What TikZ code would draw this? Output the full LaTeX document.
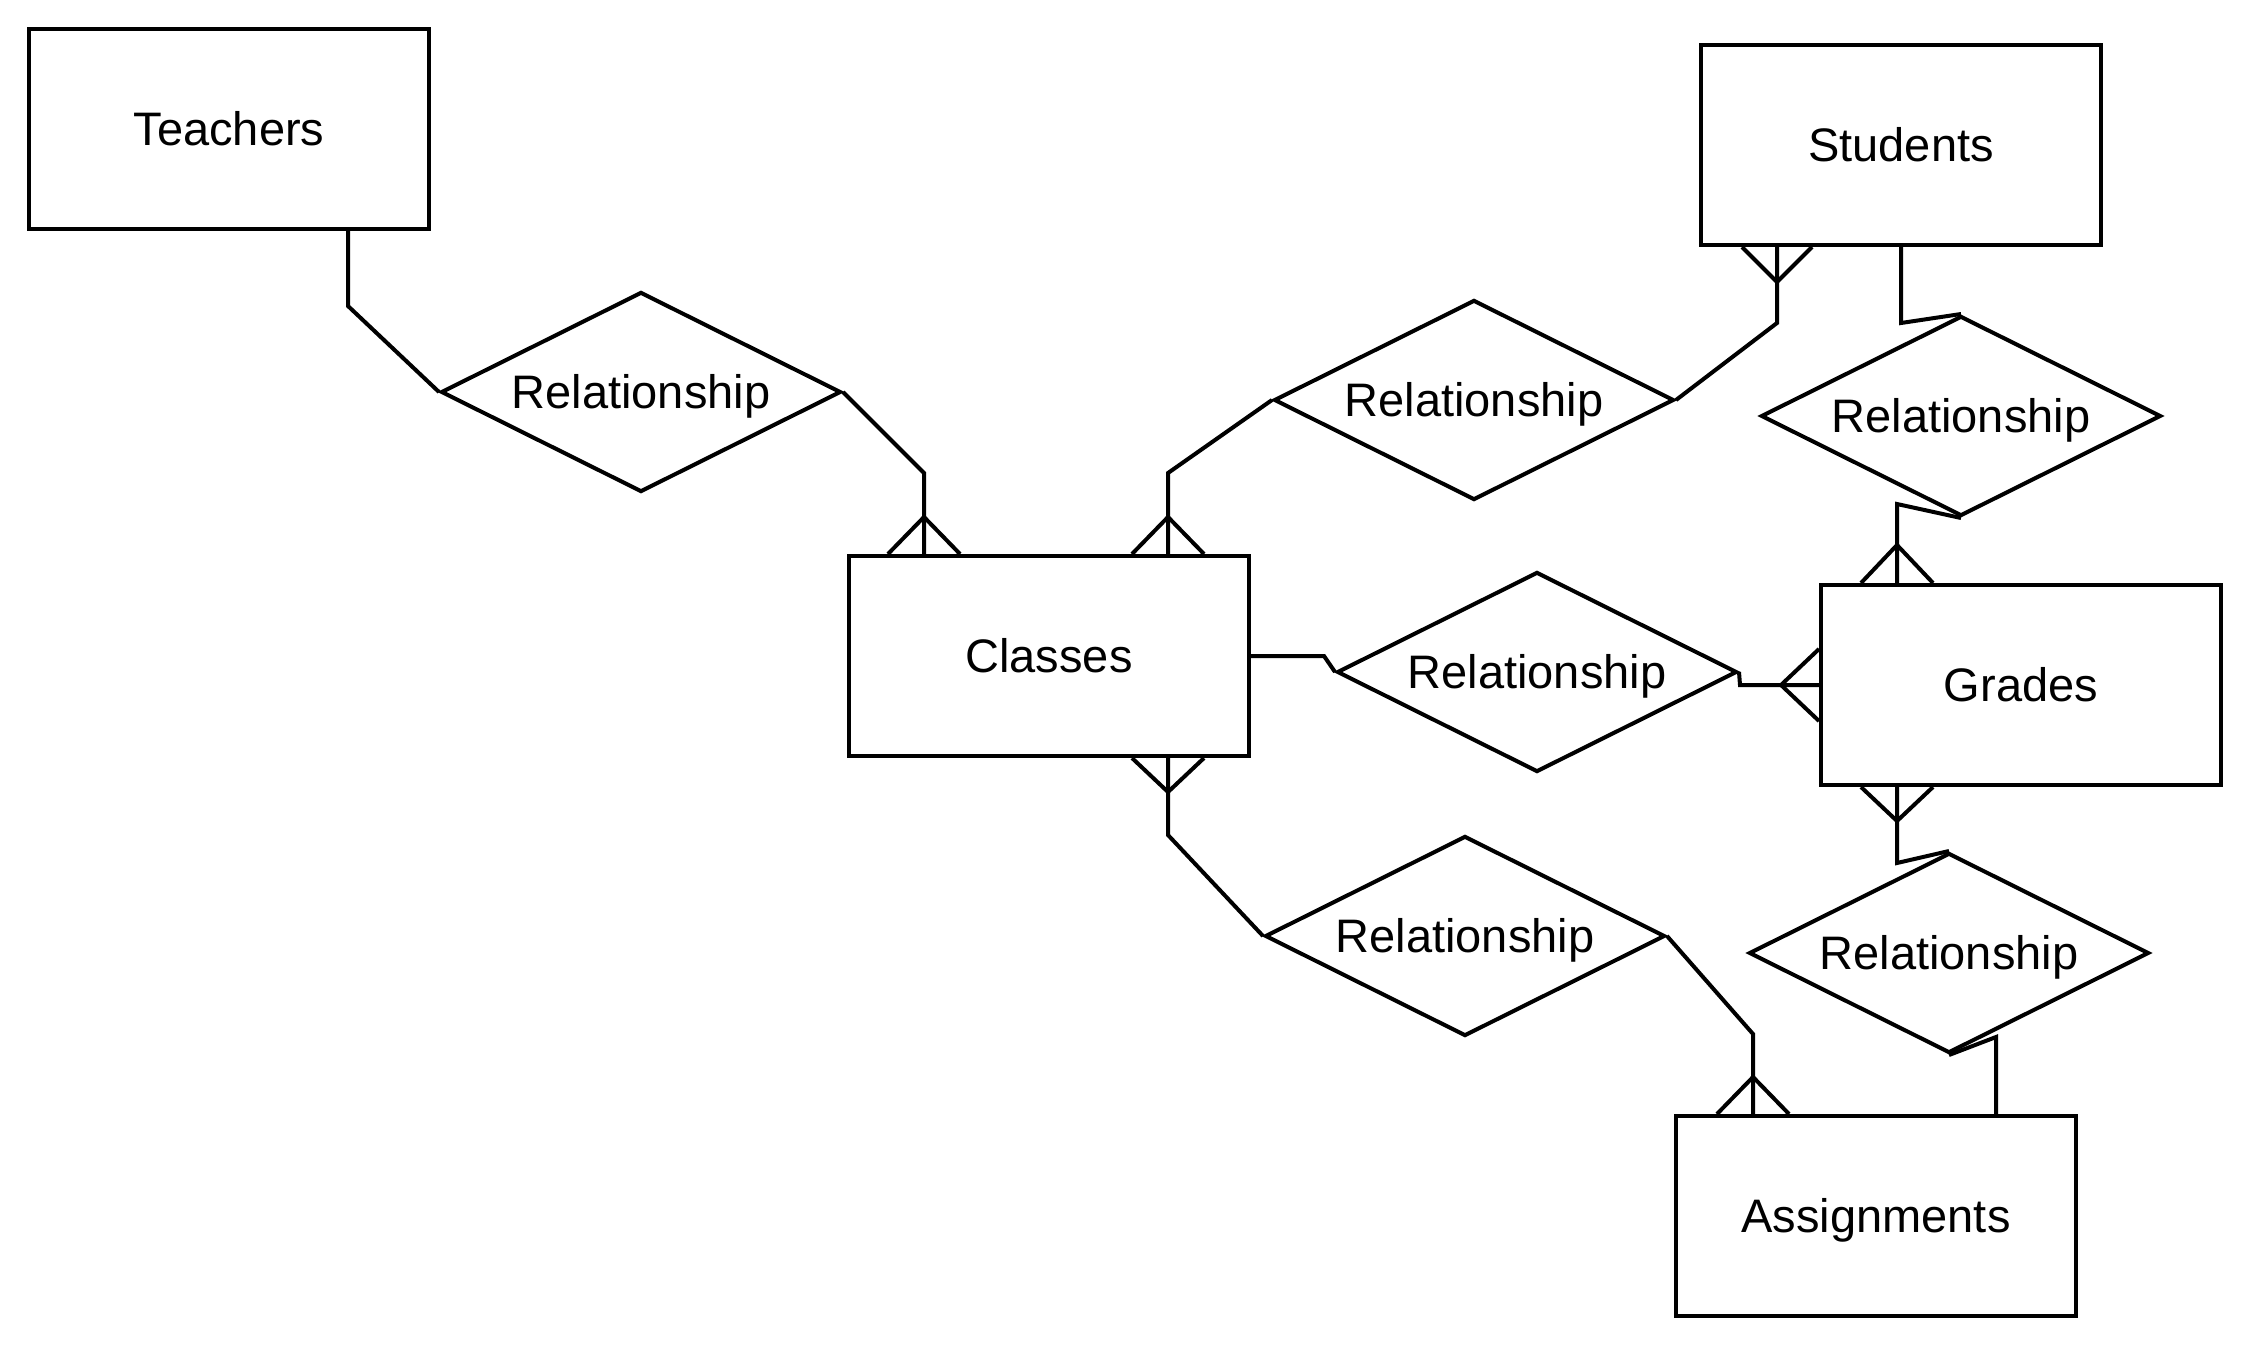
\documentclass[tikz,border=0pt]{standalone}
\usepackage{fontspec}
\setmainfont{Liberation Sans}
\usetikzlibrary{shapes.geometric,calc}
\begin{document}
\begin{tikzpicture}[x=0.5pt,y=-0.5pt,
  lbl/.style={font=\fontsize{23.5pt}{28pt}\selectfont,text height=16.8pt,text depth=0pt,inner sep=0pt},
  entity/.style={lbl,draw,line width=2pt,rectangle,minimum width=200pt,minimum height=100pt},
  rel/.style={lbl,draw,line width=2pt,diamond,shape aspect=2,minimum width=200pt,minimum height=100pt},
  conn/.style={line width=2pt}]
\fill[white] (0,0) rectangle (2248,1344);
\useasboundingbox (0,0) rectangle (2248,1344);

% entities
\node[entity] (teachers) at (229,129) {Teachers};
\node[entity] (students) at (1901,145) {Students};
\node[entity] (classes) at (1049,656) {Classes};
\node[entity] (grades) at (2021,685) {Grades};
\node[entity] (assign) at (1876,1216) {Assignments};

% relationships
\node[rel] (d1) at (641,392) {Relationship};
\node[rel] (d2) at (1474,400) {Relationship};
\node[rel] (d3) at (1961,416) {Relationship};
\node[rel] (d4) at (1537,672) {Relationship};
\node[rel] (d5) at (1465,936) {Relationship};
\node[rel] (d6) at (1949,953) {Relationship};

% bend points
\coordinate (k1) at (348,306);
\coordinate (k2) at (924,473);
\coordinate (k3) at (1168,473);
\coordinate (k4) at (1777,323);
\coordinate (k5) at (1901,323);
\coordinate (k6) at (1897,504);
\coordinate (k7) at (1324,656);
\coordinate (k8) at (1740,685);
\coordinate (k9) at (1168,835);
\coordinate (k10) at (1753,1034);
\coordinate (k11) at (1897,863);
\coordinate (k12) at (1996,1037);

% Teachers - D1
\draw[conn] (k1 |- teachers.south) -- (k1) -- (d1.west);
% D1 - Classes
\draw[conn] (d1.east) -- (k2) -- (k2 |- classes.north);
\draw[conn] (k2 |- classes.north) ++(-36,0) -- ++(36,-37) -- ++(36,37);
% Classes - D2
\draw[conn] (k3 |- classes.north) -- (k3) -- (d2.west);
\draw[conn] (k3 |- classes.north) ++(-36,0) -- ++(36,-37) -- ++(36,37);
% D2 - Students
\draw[conn] (d2.east) -- (k4) -- (k4 |- students.south);
\draw[conn] (k4 |- students.south) ++(-35,0) -- ++(35,35) -- ++(35,-35);
% Students - D3
\draw[conn] (k5 |- students.south) -- (k5) -- (d3.north);
% D3 - Grades
\draw[conn] (d3.south) -- (k6) -- (k6 |- grades.north);
\draw[conn] (k6 |- grades.north) ++(-36,0) -- ++(36,-38) -- ++(36,38);
% Classes - D4
\draw[conn] (classes.east) -- (k7) -- (d4.west);
% D4 - Grades
\draw[conn] (d4.east) -- (k8) -- (grades.west);
\draw[conn] (grades.west) ++(0,-36) -- ++(-38,36) -- ++(38,36);
% Classes - D5
\draw[conn] (k9 |- classes.south) -- (k9) -- (d5.west);
\draw[conn] (k9 |- classes.south) ++(-36,0) -- ++(36,34) -- ++(36,-34);
% D5 - Assignments
\draw[conn] (d5.east) -- (k10) -- (k10 |- assign.north);
\draw[conn] (k10 |- assign.north) ++(-36,0) -- ++(36,-37) -- ++(36,37);
% Grades - D6
\draw[conn] (k11 |- grades.south) -- (k11) -- (d6.north);
\draw[conn] (k11 |- grades.south) ++(-36,0) -- ++(36,34) -- ++(36,-34);
% D6 - Assignments
\draw[conn] (d6.south) -- (k12) -- (k12 |- assign.north);
\end{tikzpicture}
\end{document}
